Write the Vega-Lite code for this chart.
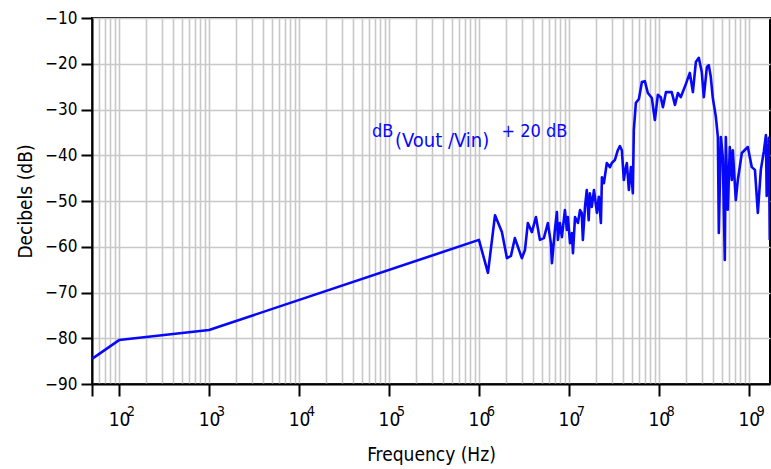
{
  "$schema": "https://vega.github.io/schema/vega-lite/v6.json",
  "width": 678,
  "height": 366,
  "autosize": {"type": "none"},
  "padding": {"left": 92, "top": 18, "right": 1, "bottom": 85},
  "background": "white",
  "config": {
    "view": {"stroke": "black", "strokeWidth": 2},
    "font": "DejaVu Sans Condensed",
    "axis": {
      "labelFont": "DejaVu Sans Condensed",
      "titleFont": "DejaVu Sans Condensed",
      "labelColor": "black",
      "titleColor": "black",
      "labelFontSize": 17,
      "titleFontSize": 19,
      "titleFontWeight": "normal",
      "domainColor": "black",
      "domainWidth": 2,
      "tickColor": "black",
      "tickWidth": 2,
      "gridColor": "#c8c8c8",
      "gridWidth": 1.6
    }
  },
  "datasets": {
    "curve": [
      {"f": 50, "db": -84.5},
      {"f": 100, "db": -80.4},
      {"f": 1000, "db": -78.2},
      {"f": 1000000, "db": -58.5},
      {"f": 1260000, "db": -65.7},
      {"f": 1510000, "db": -53.1},
      {"f": 1800000, "db": -56.8},
      {"f": 2050000, "db": -62.5},
      {"f": 2270000, "db": -62.0},
      {"f": 2510000, "db": -58.1},
      {"f": 3000000, "db": -62.5},
      {"f": 3250000, "db": -60.7},
      {"f": 3500000, "db": -54.8},
      {"f": 3880000, "db": -56.8},
      {"f": 4300000, "db": -53.5},
      {"f": 4760000, "db": -58.5},
      {"f": 5270000, "db": -58.1},
      {"f": 5840000, "db": -54.8},
      {"f": 6310000, "db": -59.2},
      {"f": 6480000, "db": -63.6},
      {"f": 6990000, "db": -56.3},
      {"f": 7360000, "db": -52.4},
      {"f": 7550000, "db": -58.5},
      {"f": 7940000, "db": -54.8},
      {"f": 8360000, "db": -57.9},
      {"f": 9030000, "db": -52.0},
      {"f": 9500000, "db": -56.3},
      {"f": 9750000, "db": -53.5},
      {"f": 10300000, "db": -59.2},
      {"f": 10800000, "db": -57.0},
      {"f": 11100000, "db": -61.4},
      {"f": 11700000, "db": -53.5},
      {"f": 12600000, "db": -54.8},
      {"f": 13300000, "db": -52.0},
      {"f": 13900000, "db": -52.6},
      {"f": 14300000, "db": -58.5},
      {"f": 15100000, "db": -51.3},
      {"f": 15800000, "db": -47.6},
      {"f": 16600000, "db": -54.2},
      {"f": 17100000, "db": -48.3},
      {"f": 18000000, "db": -51.3},
      {"f": 19000000, "db": -47.6},
      {"f": 20500000, "db": -52.6},
      {"f": 21500000, "db": -49.1},
      {"f": 22700000, "db": -54.8},
      {"f": 23300000, "db": -44.8},
      {"f": 24500000, "db": -46.1},
      {"f": 26400000, "db": -41.7},
      {"f": 28600000, "db": -42.6},
      {"f": 30000000, "db": -41.7},
      {"f": 32500000, "db": -41.0},
      {"f": 35000000, "db": -38.9},
      {"f": 36900000, "db": -38.0},
      {"f": 38800000, "db": -38.9},
      {"f": 40800000, "db": -45.4},
      {"f": 42400000, "db": -43.2},
      {"f": 44100000, "db": -41.7},
      {"f": 46400000, "db": -47.6},
      {"f": 48900000, "db": -42.6},
      {"f": 51400000, "db": -48.3},
      {"f": 52700000, "db": -34.5},
      {"f": 55500000, "db": -28.6},
      {"f": 60000000, "db": -27.7},
      {"f": 64800000, "db": -24.0},
      {"f": 69900000, "db": -23.8},
      {"f": 75500000, "db": -26.4},
      {"f": 83600000, "db": -27.5},
      {"f": 90300000, "db": -32.3},
      {"f": 97500000, "db": -26.8},
      {"f": 105000000, "db": -27.3},
      {"f": 111000000, "db": -29.5},
      {"f": 120000000, "db": -26.2},
      {"f": 139000000, "db": -26.2},
      {"f": 151000000, "db": -29.0},
      {"f": 163000000, "db": -26.4},
      {"f": 175000000, "db": -27.3},
      {"f": 194000000, "db": -25.1},
      {"f": 221000000, "db": -22.0},
      {"f": 239000000, "db": -26.2},
      {"f": 258000000, "db": -19.6},
      {"f": 278000000, "db": -18.7},
      {"f": 300000000, "db": -21.8},
      {"f": 316000000, "db": -27.3},
      {"f": 342000000, "db": -20.7},
      {"f": 359000000, "db": -20.3},
      {"f": 378000000, "db": -22.9},
      {"f": 398000000, "db": -27.5},
      {"f": 430000000, "db": -31.6},
      {"f": 453000000, "db": -36.0},
      {"f": 464000000, "db": -57.0},
      {"f": 489000000, "db": -36.0},
      {"f": 514000000, "db": -40.4},
      {"f": 541000000, "db": -62.9},
      {"f": 555000000, "db": -36.0},
      {"f": 584000000, "db": -51.9},
      {"f": 615000000, "db": -38.2},
      {"f": 647000000, "db": -45.4},
      {"f": 664000000, "db": -38.9},
      {"f": 717000000, "db": -49.8},
      {"f": 755000000, "db": -45.4},
      {"f": 836000000, "db": -39.5},
      {"f": 975000000, "db": -38.2},
      {"f": 1080000000, "db": -42.6},
      {"f": 1170000000, "db": -43.2},
      {"f": 1260000000, "db": -52.6},
      {"f": 1360000000, "db": -43.2},
      {"f": 1470000000, "db": -39.1},
      {"f": 1550000000, "db": -35.6},
      {"f": 1580000000, "db": -48.9},
      {"f": 1670000000, "db": -36.2},
      {"f": 1710000000, "db": -58.5}
    ],
    "notes": [
      {"f": 64700, "db": -36.1, "t": "dB", "s": "main"},
      {"f": 116600, "db": -38.1, "t": "(Vout /Vin)", "s": "sub"},
      {"f": 1787000, "db": -36.1, "t": "+ 20 dB", "s": "main"}
    ],
    "exps": [
      {"f": 100, "e": "2"},
      {"f": 1000, "e": "3"},
      {"f": 10000, "e": "4"},
      {"f": 100000, "e": "5"},
      {"f": 1000000, "e": "6"},
      {"f": 10000000, "e": "7"},
      {"f": 100000000, "e": "8"},
      {"f": 1000000000, "e": "9"}
    ]
  },
  "layer": [
    {
      "data": {"name": "curve"},
      "mark": {"type": "line", "color": "#0808f8", "strokeWidth": 2.6, "clip": true, "strokeJoin": "round"},
      "encoding": {
        "x": {
          "field": "f",
          "type": "quantitative",
          "scale": {"type": "log", "domain": [50, 1720000000], "nice": false},
          "axis": {
            "title": "Frequency (Hz)",
            "titlePadding": 16,
            "values": [50, 60, 70, 80, 90,
              100, 200, 300, 400, 500, 600, 700, 800, 900,
              1000, 2000, 3000, 4000, 5000, 6000, 7000, 8000, 9000,
              10000, 20000, 30000, 40000, 50000, 60000, 70000, 80000, 90000,
              100000, 200000, 300000, 400000, 500000, 600000, 700000, 800000, 900000,
              1000000, 2000000, 3000000, 4000000, 5000000, 6000000, 7000000, 8000000, 9000000,
              10000000, 20000000, 30000000, 40000000, 50000000, 60000000, 70000000, 80000000, 90000000,
              100000000, 200000000, 300000000, 400000000, 500000000, 600000000, 700000000, 800000000, 900000000,
              1000000000],
            "labelExpr": "indexof([100,1000,10000,100000,1000000,10000000,100000000,1000000000], datum.value) >= 0 ? '10' : ''",
            "tickSize": 12,
            "labelPadding": 14,
            "labelFontSize": 19,
            "labelDx": -5,
            "labelOverlap": false,
            "tickOpacity": {"condition": {"test": "indexof([50,100,1000,10000,100000,1000000,10000000,100000000,1000000000], datum.value) >= 0", "value": 1}, "value": 0},
            "grid": true
          }
        },
        "y": {
          "field": "db",
          "type": "quantitative",
          "scale": {"domain": [-90, -10], "nice": false},
          "axis": {
            "title": "Decibels (dB)",
            "titlePadding": 9,
            "values": [-90, -85, -80, -75, -70, -65, -60, -55, -50, -45, -40, -35, -30, -25, -20, -15, -10],
            "labelExpr": "datum.value % 10 == 0 ? datum.label : ''",
            "labelPadding": 4,
            "tickSize": {"condition": {"test": "datum.value % 10 == 0", "value": 11}, "value": 6},
            "gridOpacity": {"condition": {"test": "datum.value % 10 == 0", "value": 1}, "value": 0},
            "grid": true
          }
        }
      }
    },
    {
      "data": {"name": "exps"},
      "mark": {"type": "text", "align": "left", "baseline": "alphabetic", "color": "black", "fontSize": 14, "font": "DejaVu Sans Condensed", "clip": false, "dx": 8},
      "encoding": {
        "x": {"field": "f", "type": "quantitative"},
        "y": {"datum": -97.1},
        "text": {"field": "e"}
      }
    },
    {
      "data": {"name": "notes"},
      "mark": {"type": "text", "align": "left", "baseline": "alphabetic", "color": "#0808f8", "font": "DejaVu Sans Condensed"},
      "encoding": {
        "x": {"field": "f", "type": "quantitative"},
        "y": {"field": "db", "type": "quantitative"},
        "text": {"field": "t"},
        "size": {"field": "s", "type": "nominal", "scale": {"domain": ["main", "sub"], "range": [18, 20]}, "legend": null}
      }
    }
  ]
}
